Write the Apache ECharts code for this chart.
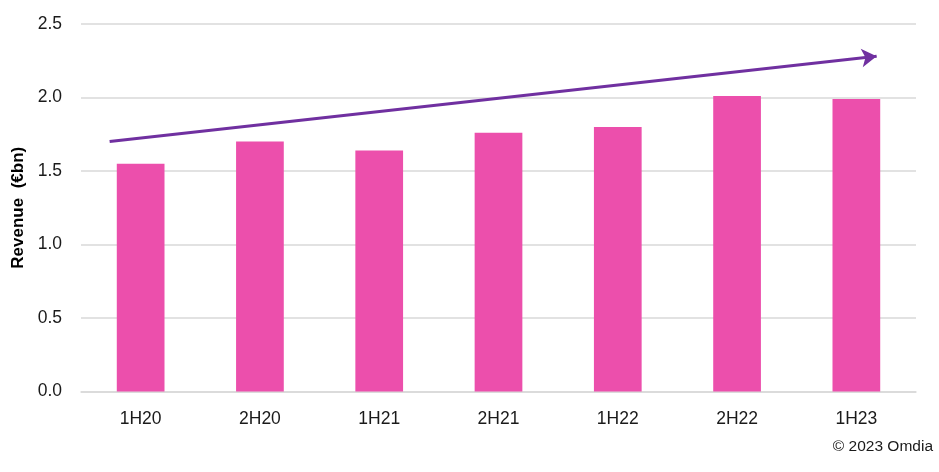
<!DOCTYPE html>
<html><head><meta charset="utf-8">
<script src="https://cdn.jsdelivr.net/npm/echarts@6/dist/echarts.min.js"></script>
<style>html,body{margin:0;padding:0;background:#fff}#c{width:939px;height:472px}</style>
</head><body><div id="c"></div>
<script>
var categories = ['1H20','2H20','1H21','2H21','1H22','2H22','1H23'];
var revenue = [1.55, 1.70, 1.64, 1.76, 1.80, 2.01, 1.99];
var trendStart = [-0.26, 1.70];
var trendEnd = [6.17, 2.28];
var yTicks = [0, 0.5, 1.0, 1.5, 2.0, 2.5];

var font = '"Liberation Sans", "Noto Sans", sans-serif';
var chart = echarts.init(document.getElementById('c'));
chart.setOption({
  animation: false,
  grid: {left: 81, right: 23, top: 24, bottom: 80.5, containLabel: false, outerBoundsMode: 'none'},
  xAxis: [{
    type: 'category', data: categories,
    axisLine: {lineStyle: {color: '#d9d9d9', width: 1.5}},
    axisTick: {show: false},
    axisLabel: {color: '#1a1a1a', fontSize: 17.5, fontFamily: font, margin: 19}
  }, {
    type: 'value', min: -0.5, max: 6.5, show: false
  }],
  yAxis: {
    type: 'value', min: yTicks[0], max: yTicks[yTicks.length-1], interval: 0.5,
    name: 'Revenue  (€bn)', nameLocation: 'middle', nameGap: 53,
    nameTextStyle: {color: '#000', fontSize: 17, fontWeight: 'bold', fontFamily: font},
    axisLine: {show: false}, axisTick: {show: false},
    axisLabel: {color: '#1a1a1a', fontSize: 17.5, fontFamily: font, margin: 19,
      formatter: function(v){ return v.toFixed(1); }},
    splitLine: {lineStyle: {color: '#d9d9d9', width: 1.5}}
  },
  series: [{
    type: 'bar', data: revenue, barWidth: '40%',
    itemStyle: {color: '#EC4FAC'}
  }, {
    type: 'line', xAxisIndex: 1, data: [], silent: true,
    markLine: {
      silent: true, symbol: ['none', 'arrow'], symbolSize: [14, 15],
      label: {show: false},
      lineStyle: {color: '#7030A0', width: 3, type: 'solid'},
      data: [[{coord: trendStart}, {coord: trendEnd}]]
    }
  }],
  graphic: [{
    type: 'text', right: 6, top: 439,
    style: {text: '© 2023 Omdia', fill: '#1a1a1a', fontSize: 15.5, fontFamily: font}
  }]
});
</script></body></html>
